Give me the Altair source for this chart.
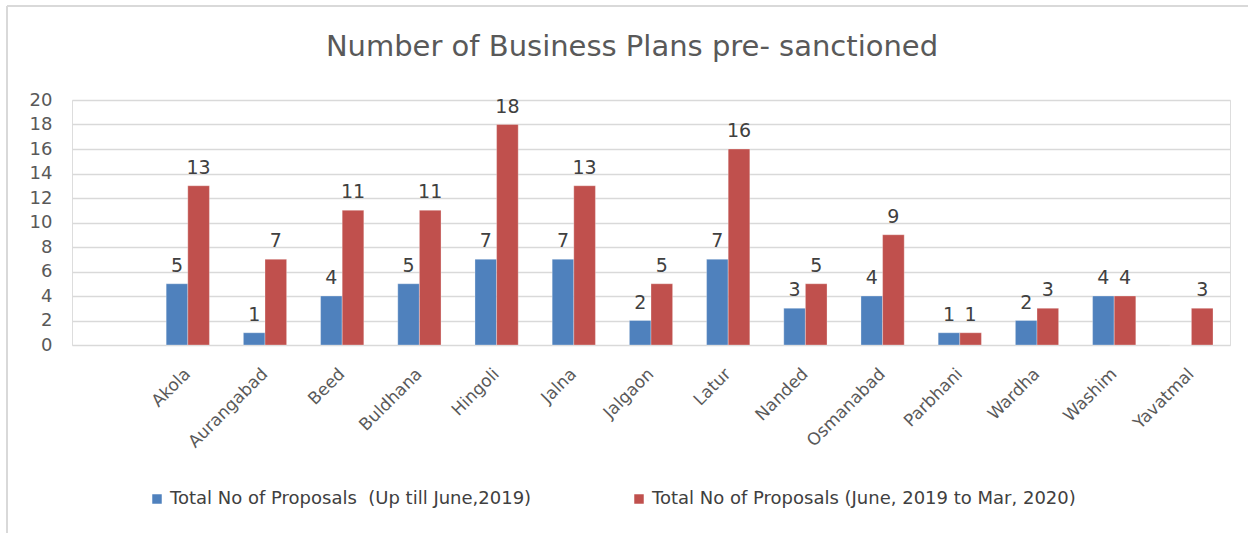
import altair as alt
import pandas as pd

districts = ["Akola", "Aurangabad", "Beed", "Buldhana", "Hingoli", "Jalna", "Jalgaon",
             "Latur", "Nanded", "Osmanabad", "Parbhani", "Wardha", "Washim", "Yavatmal"]
up_to_june_2019 = [5, 1, 4, 5, 7, 7, 2, 7, 3, 4, 1, 2, 4, 0]
june2019_mar2020 = [13, 7, 11, 11, 18, 13, 5, 16, 5, 9, 1, 3, 4, 3]
series_names = ["Total No of Proposals \u00a0(Up till June,2019)",
                "Total No of Proposals (June, 2019 to Mar, 2020)"]
colors = ["#4F81BD", "#C0504D"]
y_ticks = list(range(0, 21, 2))
title_text = "Number of Business Plans pre- sanctioned"

rows = []
for d, a, b in zip(districts, up_to_june_2019, june2019_mar2020):
    rows.append({"District": d, "Series": series_names[0], "Value": a})
    rows.append({"District": d, "Series": series_names[1], "Value": b})
df = pd.DataFrame(rows)

FONT = "DejaVu Sans"
x_domain = [" "] + districts

x_axis = alt.Axis(title=None, labelAngle=-45, labelFontSize=17, labelColor="#595959",
                  labelFont=FONT, domain=False, ticks=False, labelPadding=26, labelOffset=0,
                  labelAlign="right", labelBaseline="middle")
y_axis = alt.Axis(title=None, values=y_ticks, tickCount=30, format="d", domain=False, ticks=False,
                  labelFontSize=18, labelColor="#595959", labelFont=FONT,
                  labelOverlap=False, labelPadding=20, gridColor="#D9D9D9", gridWidth=1.5)
x_scale = alt.Scale(domain=x_domain, paddingInner=0.44, paddingOuter=0.22)
y_scale = alt.Scale(domain=[0, 20], nice=False)
xo = alt.XOffset("Series:N", scale=alt.Scale(domain=series_names, paddingInner=0, paddingOuter=0))

bars = alt.Chart(df).mark_bar(stroke="white", strokeWidth=0.6, strokeOpacity=0.5).encode(
    x=alt.X("District:N", scale=x_scale, sort=x_domain, axis=x_axis),
    xOffset=xo,
    y=alt.Y("Value:Q", scale=y_scale, axis=y_axis),
    color=alt.Color("Series:N", scale=alt.Scale(domain=series_names, range=colors),
                    legend=alt.Legend(title=None, orient="none", legendX=76, legendY=390,
                                      direction="horizontal", symbolType="square", symbolSize=90,
                                      symbolStrokeWidth=0, labelFontSize=18, labelColor="#404040",
                                      labelFont=FONT, columnPadding=98, symbolOffset=0,
                                      labelOffset=4, labelLimit=600)),
)

labels = alt.Chart(df).transform_filter("datum.Value > 0").mark_text(
    baseline="bottom", dy=-8, fontSize=19, color="#404040", font=FONT
).encode(
    x=alt.X("District:N", scale=x_scale, sort=x_domain, axis=x_axis),
    xOffset=xo,
    y=alt.Y("Value:Q", scale=y_scale, axis=y_axis),
    text=alt.Text("Value:Q"),
)

title = alt.Chart(pd.DataFrame({"t": [title_text]})).mark_text(
    fontSize=29, font=FONT, color="#595959", align="center", baseline="middle"
).encode(x=alt.value(560), y=alt.value(-53), text="t:N")

frame_top = alt.Chart(df).mark_rule(color="#D9D9D9", strokeWidth=2).encode(
    x=alt.value(-65), x2=alt.value(1180), y=alt.value(-94)
)
frame_left = alt.Chart(df).mark_rule(color="#D9D9D9", strokeWidth=2).encode(
    x=alt.value(-65), y=alt.value(-94), y2=alt.value(440)
)

chart = alt.layer(bars, labels, title, frame_top, frame_left).properties(
    width=1158, height=245,
    autosize=alt.AutoSizeParams(type="none"),
    padding={"left": 72, "top": 100, "right": 18, "bottom": 188},
).configure_view(stroke=None).configure(background="white")

chart.save("out.html", embed_options={"renderer": "svg", "actions": False})
